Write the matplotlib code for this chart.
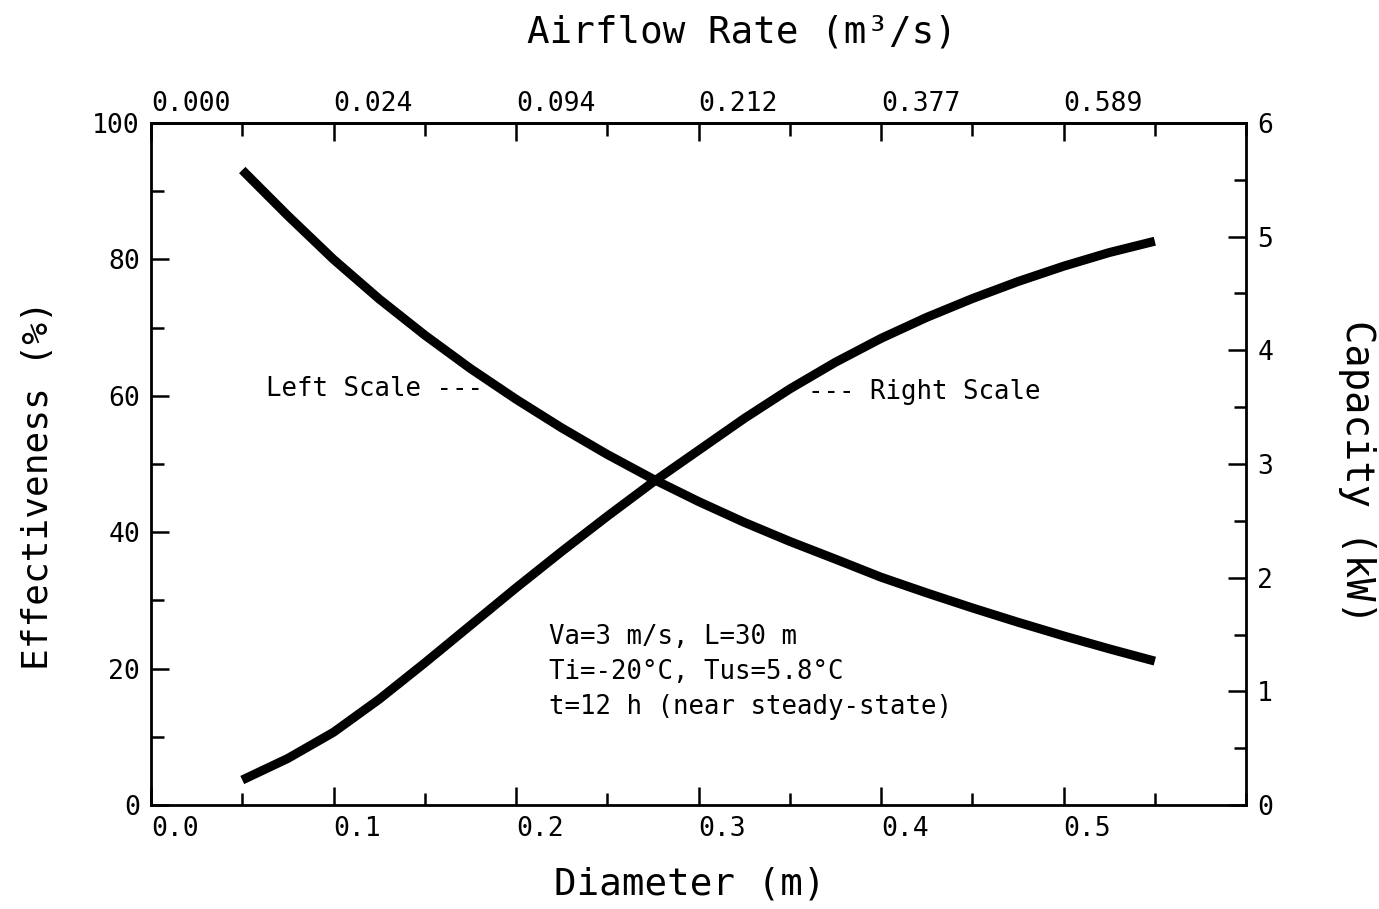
import numpy as np
import matplotlib.pyplot as plt
from matplotlib.ticker import MultipleLocator

plt.rcParams['font.family'] = ['DejaVu Sans Mono']

# diameter (m) and the two curves
diameter = [0.05, 0.075, 0.10, 0.125, 0.15, 0.175, 0.20, 0.225, 0.25, 0.275, 0.30,
            0.325, 0.35, 0.375, 0.40, 0.425, 0.45, 0.475, 0.50, 0.525, 0.55]
effectiveness = [93.1, 86.4, 80.0, 74.2, 68.9, 64.0, 59.5, 55.3, 51.4, 47.8, 44.5,
                 41.45, 38.65, 36.05, 33.4, 31.1, 28.9, 26.8, 24.8, 22.9, 21.1]
capacity = [0.22, 0.41, 0.64, 0.93, 1.25, 1.58, 1.91, 2.23, 2.54, 2.84, 3.12,
            3.40, 3.66, 3.895, 4.105, 4.29, 4.455, 4.605, 4.74, 4.86, 4.96]

diam_ticks = [0.0, 0.1, 0.2, 0.3, 0.4, 0.5]
diam_labels = ['0.0', '0.1', '0.2', '0.3', '0.4', '0.5']
airflow_labels = ['0.000', '0.024', '0.094', '0.212', '0.377', '0.589']
eff_ticks = [0, 20, 40, 60, 80, 100]
cap_ticks = [0, 1, 2, 3, 4, 5, 6]

fig = plt.figure(figsize=(13.79, 9.09), dpi=100)
ax = fig.add_axes([0.1095, 0.1144, 0.7941, 0.7503])
ax2 = ax.twinx()

ax.plot(diameter, effectiveness, color='black', lw=6.5,
        solid_capstyle='butt', solid_joinstyle='round')
ax2.plot(diameter, capacity, color='black', lw=6.5,
         solid_capstyle='butt', solid_joinstyle='round')

ax.set_xlim(0, 0.6)
ax.set_ylim(0, 100)
ax2.set_ylim(0, 6)

ax.set_xticks(diam_ticks, labels=diam_labels)
ax.xaxis.set_minor_locator(MultipleLocator(0.05))
ax.set_yticks(eff_ticks, labels=[str(v) for v in eff_ticks])
ax.yaxis.set_minor_locator(MultipleLocator(10))
ax2.set_yticks(cap_ticks, labels=[str(v) for v in cap_ticks])
ax2.yaxis.set_minor_locator(MultipleLocator(0.5))

top = ax.secondary_xaxis('top')
top.set_xticks(diam_ticks, labels=airflow_labels)
top.xaxis.set_minor_locator(MultipleLocator(0.05))

for a in (ax, ax2, top):
    a.tick_params(which='major', direction='in', length=13, width=1.8, labelsize=19, pad=8)
    a.tick_params(which='minor', direction='in', length=9, width=1.8)
for lbl in ax.get_xticklabels() + top.get_xticklabels():
    lbl.set_horizontalalignment('left')
top.tick_params(pad=4)
for s in ax.spines.values():
    s.set_linewidth(2)
for s in top.spines.values():
    s.set_linewidth(2)

# axis titles
fig.text(742 / 1379, 1 - 33 / 909, 'Airflow Rate (m³/s)', fontsize=27, ha='center', va='center')
fig.text(690 / 1379, 1 - 885 / 909, 'Diameter (m)', fontsize=27, ha='center', va='center')
fig.text(38 / 1379, 1 - 485 / 909, 'Effectiveness (%)', fontsize=26, rotation=90,
         ha='center', va='center')
fig.text(1357 / 1379, 1 - 472 / 909, 'Capacity (kW)', fontsize=28, rotation=-90,
         ha='center', va='center')

ax.text(0.063, 61, 'Left Scale ---', fontsize=18.5, ha='left', va='center')
ax.text(0.360, 60.6, '--- Right Scale', fontsize=18.5, ha='left', va='center')
ax.text(0.218, 19.5, 'Va=3 m/s, L=30 m\nTi=-20°C, Tus=5.8°C\nt=12 h (near steady-state)',
        fontsize=18.5, ha='left', va='center', linespacing=1.45)

fig.savefig('out.png', dpi=100)
